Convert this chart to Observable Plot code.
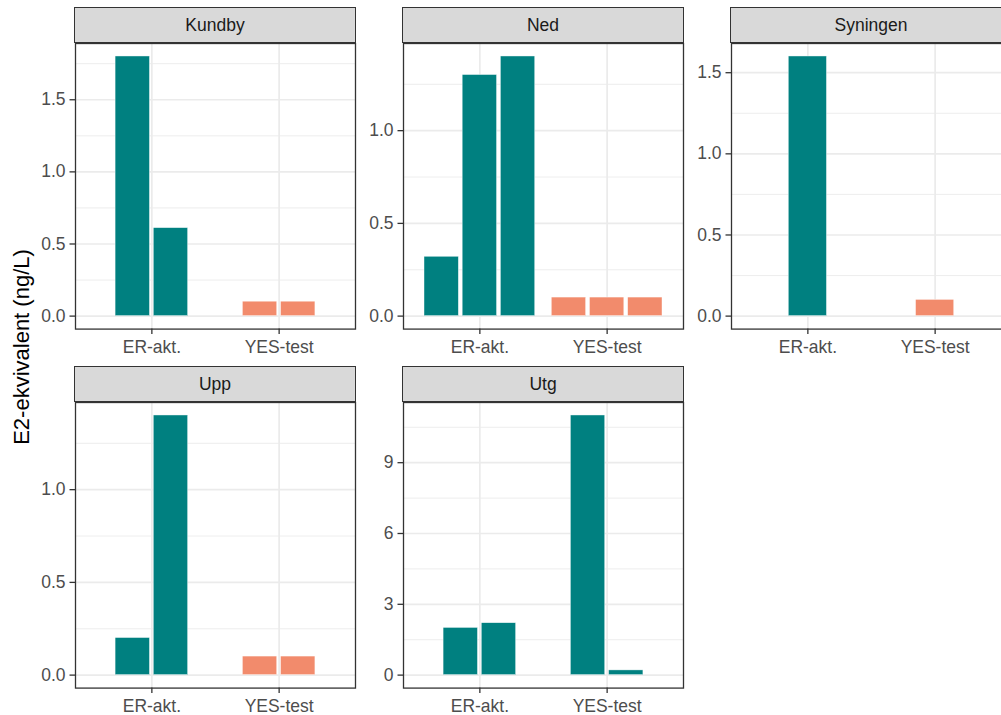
<!DOCTYPE html>
<html>
<head>
<meta charset="utf-8">
<script src="https://cdn.jsdelivr.net/npm/d3@7"></script>
<script src="https://cdn.jsdelivr.net/npm/@observablehq/plot@0.6"></script>
<style>
  html, body { margin: 0; padding: 0; background: #ffffff; overflow: hidden; }
  #chart { position: relative; width: 1001px; height: 715px; overflow: hidden; background: #ffffff;
           font-family: "Liberation Sans", Arial, sans-serif; }
  .strip { position: absolute; box-sizing: border-box; background: #D9D9D9; border: 1.3px solid #333333;
           display: flex; align-items: center; justify-content: center; font-size: 17.5px; color: #1A1A1A; }
  .panel { position: absolute; }
  .ytitle { position: absolute; font-size: 22px; color: #000000; white-space: nowrap;
            transform: translate(-50%, -50%) rotate(-90deg); }
</style>
</head>
<body>
<div id="chart"></div>
<script>
// ---- data ----
const sites = ["Kundby", "Ned", "Syningen", "Upp", "Utg"];
const methods = ["ER-akt.", "YES-test"];

const barSite = ["Kundby","Kundby","Kundby","Kundby",
                 "Ned","Ned","Ned","Ned","Ned","Ned",
                 "Syningen","Syningen",
                 "Upp","Upp","Upp","Upp",
                 "Utg","Utg","Utg","Utg"];
const barMethod = ["ER-akt.","ER-akt.","YES-test","YES-test",
                   "ER-akt.","ER-akt.","ER-akt.","YES-test","YES-test","YES-test",
                   "ER-akt.","YES-test",
                   "ER-akt.","ER-akt.","YES-test","YES-test",
                   "ER-akt.","ER-akt.","YES-test","YES-test"];
const barValue = [1.8, 0.61, 0.1, 0.1,
                  0.32, 1.3, 1.4, 0.1, 0.1, 0.1,
                  1.6, 0.1,
                  0.2, 1.4, 0.1, 0.1,
                  2.0, 2.2, 11.0, 0.2];
const barStatus = ["detected","detected","belowLOD","belowLOD",
                   "detected","detected","detected","belowLOD","belowLOD","belowLOD",
                   "detected","belowLOD",
                   "detected","detected","belowLOD","belowLOD",
                   "detected","detected","detected","detected"];

const yTicksKundby = [0, 0.5, 1.0, 1.5];
const yTicksNed = [0, 0.5, 1.0];
const yTicksSyningen = [0, 0.5, 1.0, 1.5];
const yTicksUpp = [0, 0.5, 1.0];
const yTicksUtg = [0, 3, 6, 9];
const yTickArrays = [yTicksKundby, yTicksNed, yTicksSyningen, yTicksUpp, yTicksUtg];

const statusDomain = ["detected", "belowLOD"];
const statusColors = ["#008080", "#F28B6C"];
const yTitle = "E2-ekvivalent (ng/L)";

// ---- build rows with dodge positions ----
const rows = barValue.map((v, i) => ({site: barSite[i], method: barMethod[i], value: v, status: barStatus[i]}));
const groups = d3.group(rows, d => d.site, d => d.method);
const dodgeStep = 0.3;
for (const [, byMethod] of groups) {
  for (const [m, arr] of byMethod) {
    const n = arr.length;
    const half = n > 1 ? dodgeStep * 0.45 : dodgeStep / 2;
    arr.forEach((d, j) => {
      const c = methods.indexOf(m) + 1 + (j - (n - 1) / 2) * dodgeStep;
      d.x1 = c - half;
      d.x2 = c + half;
    });
  }
}

// ---- layout ----
const chart = document.getElementById("chart");
const panelW = 280, panelH = 285.6, stripH = 35.4;
const colX = [75, 403, 731];
const rowTop = [42.7, 401.7];
const mL = 75, mR = 2, mT = 2, mB = 35;
const font = '"Liberation Sans", Arial, sans-serif';

sites.forEach((site, i) => {
  const col = i % 3, row = Math.floor(i / 3);
  const x0 = colX[col], top = rowTop[row];
  const data = rows.filter(d => d.site === site);
  const ymax = d3.max(data, d => d.value);
  const dom = [-0.05 * ymax, 1.05 * ymax];
  const major = yTickArrays[i];
  const step = major[1] - major[0];
  const minor = major.map(t => t + step / 2).filter(v => v <= dom[1]);
  if (major[0] - step / 2 >= dom[0]) minor.unshift(major[0] - step / 2);
  const allInt = major.every(t => Number.isInteger(t));
  const fmt = allInt ? d3.format("d") : d3.format(".1f");

  const svg = Plot.plot({
    width: mL + panelW + mR,
    height: mT + panelH + mB,
    marginLeft: mL, marginRight: mR, marginTop: mT, marginBottom: mB,
    x: {domain: [0.4, 2.6]},
    y: {domain: dom},
    color: {domain: statusDomain, range: statusColors},
    style: {fontFamily: font, fontSize: "17.5px", background: "transparent", overflow: "visible"},
    marks: [
      Plot.ruleY(minor, {stroke: "#EBEBEB", strokeWidth: 0.9}),
      Plot.ruleY(major, {stroke: "#EBEBEB", strokeWidth: 1.7}),
      Plot.ruleX([1, 2], {stroke: "#EBEBEB", strokeWidth: 1.7}),
      Plot.rectY(data, {x1: "x1", x2: "x2", y1: 0, y2: "value", fill: "status",
                        stroke: "#ffffff", strokeWidth: 0.6, strokeOpacity: 0.7}),
      Plot.frame({stroke: "#333333", strokeWidth: 1.3}),
      Plot.axisX({ticks: [1, 2], tickFormat: v => methods[v - 1], tickSize: 5.5, tickPadding: 6,
                  label: null, stroke: "#333333", fill: "#4D4D4D", strokeWidth: 1.3}),
      Plot.axisY({ticks: major, tickFormat: fmt, tickSize: 5.5, tickPadding: 4.5,
                  label: null, stroke: "#333333", fill: "#4D4D4D", strokeWidth: 1.3})
    ]
  });
  svg.classList.add("panel");
  svg.style.left = (x0 - mL) + "px";
  svg.style.top = (top - mT) + "px";
  chart.appendChild(svg);

  const strip = document.createElement("div");
  strip.className = "strip";
  strip.style.left = (x0 - 0.65) + "px";
  strip.style.top = (top - stripH) + "px";
  strip.style.width = (panelW + 1.3) + "px";
  strip.style.height = (stripH + 0.65) + "px";
  strip.textContent = site;
  chart.appendChild(strip);
});

const t = document.createElement("div");
t.className = "ytitle";
t.style.left = "22px";
t.style.top = "347px";
t.textContent = yTitle;
chart.appendChild(t);
</script>
</body>
</html>
